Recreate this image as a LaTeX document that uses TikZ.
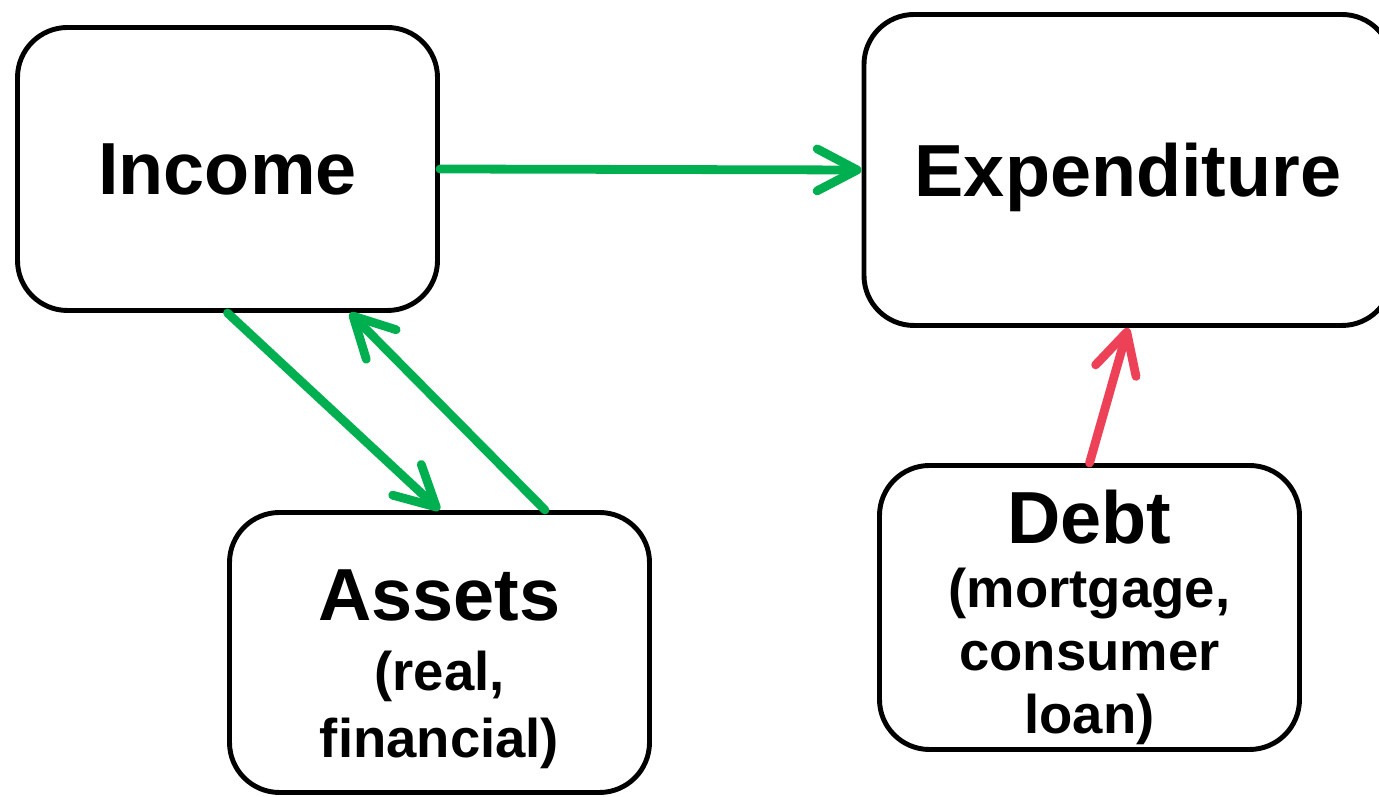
\documentclass[tikz,border=0pt]{standalone}
\usepackage{fontspec}
\setmainfont{Liberation Sans}
\usetikzlibrary{arrows.meta,positioning}
\definecolor{flowgreen}{RGB}{0,176,80}
\definecolor{debtred}{RGB}{236,65,86}

\begin{document}
\begin{tikzpicture}[
  box/.style={draw,line width=1.4pt,rounded corners=0.5cm,minimum width=4.2cm,align=center,
              font=\bfseries\fontsize{15.5}{19}\selectfont},
  bigtxt/.style={font=\bfseries\fontsize{21}{25}\selectfont,text depth=0pt},
  flow/.style={line width=2.5pt,line cap=round,flowgreen,-{Straight Barb[length=4mm,width=4.2mm,round]}}]
  \useasboundingbox (0,0) rectangle (13.79,7.97);
  % boxes
  \node[box,bigtxt,minimum height=2.83cm] (inc) at (2.275,6.28) {Income};
  \node[box,bigtxt,minimum width=5.28cm,minimum height=3.11cm] (exp) at (11.28,6.27) {Expenditure};
  \node[box,minimum height=2.8cm] (ast) at (4.395,1.445)
    {\rule{0pt}{24pt}{\fontsize{21}{21}\selectfont Assets}\\[1pt] (real,\\ financial)};
  \node[box,inner ysep=0pt,minimum height=2.84cm,font=\bfseries\fontsize{15.5}{18}\selectfont] (dbt) at (10.895,1.895)
    {\rule{0pt}{21pt}{\fontsize{21}{21}\selectfont Debt}\\ (mortgage,\\ consumer\\ loan)};
  % flows
  \draw[flow] (inc.east) -- (exp.west);
  \draw[flow] (inc.south) -- (ast.north);
  \draw[flow] ([xshift=1.055cm]ast.north) -- ([xshift=1.225cm]inc.south);
  \draw[flow,debtred] (dbt.north) -- (exp.south);
\end{tikzpicture}
\end{document}
